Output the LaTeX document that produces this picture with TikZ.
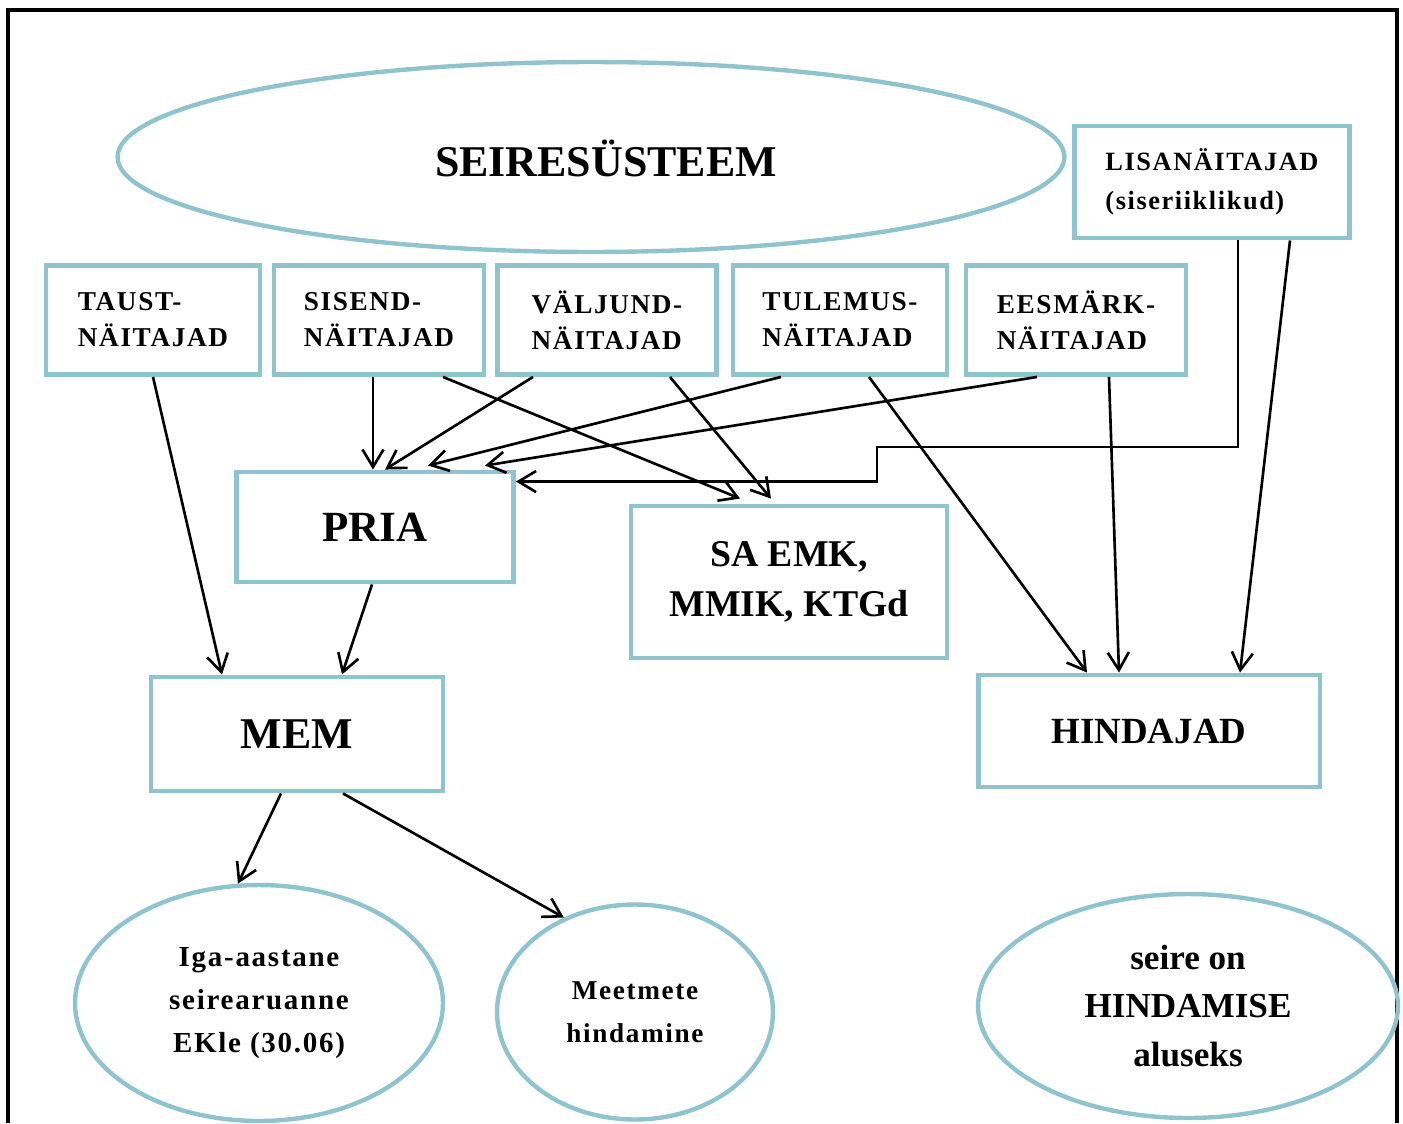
\documentclass[tikz,border=0pt]{standalone}
\usepackage{fontspec}
\setmainfont{Liberation Serif}
\newfontfamily\spacedfont[LetterSpace=6]{Liberation Serif}
\usetikzlibrary{arrows.meta,shapes.geometric,calc}
\definecolor{edgeblue}{RGB}{143,196,206}
\begin{document}
\begin{tikzpicture}
		[x=0.02cm,y=-0.02cm,
		box/.style={draw=edgeblue,line width=2.8pt,rectangle,inner sep=0pt,
			font=\bfseries},
		kind/.style={box,minimum height=2.18cm,align=left,
			font={\spacedfont\bfseries\fontsize{15.5}{20.5}\selectfont}},
		oval/.style={draw=edgeblue,line width=2.5pt,ellipse,inner sep=0pt,
			align=center},
		arr/.style={-{Straight Barb[length=10pt,width=12pt]},line width=1.5pt},
		]
		\useasboundingbox (0,0) rectangle (1403,1123);
		\draw[line width=2pt] (8,1123) -- (8,10) -- (1397,10) -- (1397,1123);
		% top
		\node[oval,minimum width=18.94cm,minimum height=3.8cm] (seire) at (591,157) {};
		\node[font={\bfseries\fontsize{25}{30}\selectfont}] (seiretxt) at (606,158) {SEIRESÜSTEEM};
		\node[box,minimum width=5.5cm,minimum height=2.24cm,align=left,
			font={\spacedfont\bfseries\fontsize{15}{22}\selectfont}] (lisa) at (1212,182)
			{LISANÄITAJAD\\(siseriiklikud)};
		% indicator row
		\node[kind,minimum width=4.28cm] (taust) at (153,320) {TAUST-\\NÄITAJAD};
		\node[kind,minimum width=4.20cm] (sisend) at (379,320) {SISEND-\\NÄITAJAD};
		\node[kind,minimum width=4.38cm] (valjund) at (607,320) {VÄLJUND-\\NÄITAJAD};
		\node[kind,minimum width=4.28cm] (tulemus) at (840,320) {TULEMUS-\\NÄITAJAD};
		\node[kind,minimum width=4.40cm] (eesmark) at (1076,320) {EESMÄRK-\\NÄITAJAD};
		% institutions
		\node[box,minimum width=5.54cm,minimum height=2.2cm,
			font={\bfseries\fontsize{24.5}{30}\selectfont}] (pria) at (375,527) {PRIA};
		\node[box,minimum width=6.32cm,minimum height=3.04cm,align=center,
			font={\bfseries\fontsize{21.5}{28.5}\selectfont}] (saemk) at (789,582)
			{SA EMK,\\MMIK, KTGd};
		\node[box,minimum width=5.84cm,minimum height=2.28cm,
			font={\bfseries\fontsize{25}{30}\selectfont}] (mem) at (297,734) {MEM};
		\node[box,minimum width=6.84cm,minimum height=2.24cm,
			font={\bfseries\fontsize{21}{26}\selectfont}] (hind) at (1149,731) {HINDAJAD};
		% bottom
		\node[oval,minimum width=7.36cm,minimum height=4.72cm,
			font={\spacedfont\bfseries\fontsize{16.5}{24.5}\selectfont}] (iga) at (259,1003)
			{Iga-aastane\\seirearuanne\\EKle (30.06)};
		\node[oval,minimum width=5.52cm,minimum height=4.3cm,
			font={\spacedfont\bfseries\fontsize{15.5}{24.5}\selectfont}] (meet) at (635,1012)
			{Meetmete\\hindamine};
		\node[oval,minimum width=8.4cm,minimum height=4.48cm,
			font={\bfseries\fontsize{20}{27.6}\selectfont}] (alus) at (1188,1006)
			{seire on\\HINDAMISE\\aluseks};
		% connectors
		\draw[arr] (taust.south) -- ($(mem.north)+(-75,0)$);
		\draw[arr] ($(sisend.south)+(-6,0)$) -- ($(pria.north)+(-2,0)$);
		\draw[arr] ($(sisend.south)+(64,0)$) -- ($(saemk.north)+(-49,-5)$);
		\draw[arr] ($(valjund.south)+(-74,0)$) -- ($(pria.north)+(10,0)$);
		\draw[arr] ($(valjund.south)+(63,0)$) -- ($(saemk.north)+(-18,-5)$);
		\draw[arr] ($(tulemus.south)+(-59,0)$) -- ($(pria.north)+(53,-4)$);
		\draw[arr] ($(tulemus.south)+(29,0)$) -- ($(hind.north)+(-62,0)$);
		\draw[arr] ($(eesmark.south)+(-39,0)$) -- ($(pria.north)+(110,-4)$);
		\draw[arr] ($(eesmark.south)+(33,0)$) -- ($(hind.north)+(-30,0)$);
		\coordinate (knee) at (877,447);
		\draw[arr] ($(lisa.south)+(26,0)$) |- (knee) |- ($(pria.north east)+(0,12)$);
		\draw[arr] ($(lisa.south)+(78,0)$) -- ($(hind.north)+(91,0)$);
		\draw[arr] ($(pria.south)+(-3,0)$) -- ($(mem.north)+(45,0)$);
		\draw[arr] ($(mem.south)+(-16,0)$) -- (iga.100);
		\draw[arr] ($(mem.south)+(46,0)$) -- (meet.127);
\end{tikzpicture}
\end{document}
